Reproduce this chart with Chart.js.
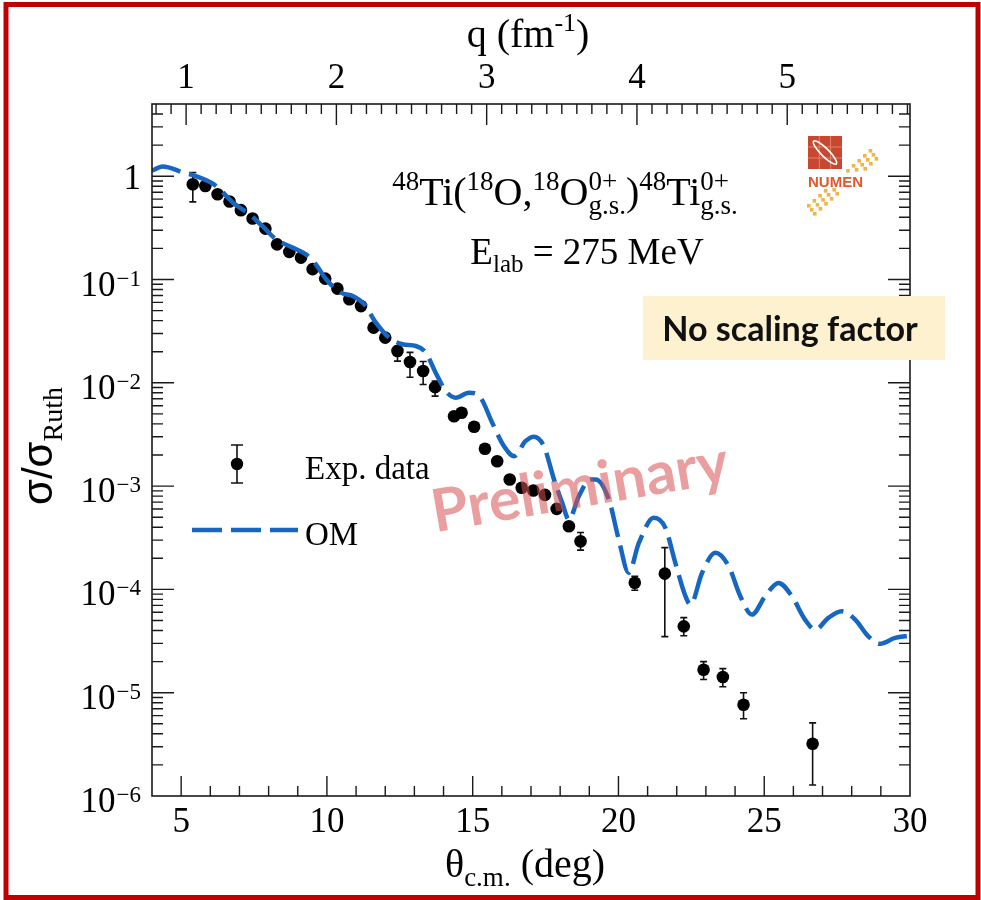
<!DOCTYPE html>
<html>
<head>
<meta charset="utf-8">
<script src="https://cdn.jsdelivr.net/npm/chart.js@4.4.1/dist/chart.umd.min.js"></script>
<style>
  html, body { margin: 0; padding: 0; background: #fff; }
  canvas { display: block; }
</style>
</head>
<body>
<canvas id="chart" width="981" height="900"></canvas>
<script>
// experimental points (theta c.m. in deg, sigma/sigma_Ruth)
const expTheta = [5.40, 5.83, 6.25, 6.66, 7.05, 7.45, 7.89, 8.29, 8.71, 9.11,
                  9.51, 9.94, 10.36, 10.77, 11.17, 11.60, 12.00, 12.42, 12.85, 13.30,
                  13.71, 14.36, 14.62, 15.05, 15.42, 15.84, 16.27, 16.68, 17.08, 17.48,
                  17.88, 18.30, 18.70, 20.56, 21.59, 22.24, 22.92, 23.58, 24.29, 26.66];
const expVal = [0.837, 0.805, 0.669, 0.569, 0.469, 0.389, 0.311, 0.219, 0.185, 0.163,
                0.126, 0.102, 0.0816, 0.0643, 0.0553, 0.0342, 0.0274, 0.0203, 0.0159, 0.0130,
                0.00908, 0.00475, 0.00513, 0.00376, 0.00230, 0.00174, 0.00116, 0.000964, 0.000906, 0.000823,
                0.000602, 0.000409, 0.000292, 1.16e-4, 1.42e-4, 4.39e-5, 1.67e-5, 1.42e-5, 7.65e-6, 3.2e-6];
// error bar ends (null = hidden behind the marker)
const expLo = [0.564, null, null, null, null, null, null, null, null, null,
               null, null, null, null, null, null, null, 0.0162, 0.0113, 0.00964,
               0.00743, null, null, null, null, null, null, null, null, null,
               null, null, 2.4e-4, 9.8e-5, 3.49e-5, 3.56e-5, 1.34e-5, 1.14e-5, 5.6e-6, 1.28e-6];
const expHi = [1.086, null, null, null, null, null, null, null, null, null,
               null, null, null, null, null, null, null, 0.0225, 0.0197, 0.0161,
               0.0104, null, null, null, null, null, null, null, null, null,
               null, null, 3.55e-4, 1.34e-4, 2.54e-4, 5.33e-5, 2.0e-5, 1.71e-5, 1.0e-5, 5.1e-6];

// optical model curve
const omTheta = [4.0, 4.37, 5.05, 5.51, 6.20, 6.77, 7.34, 7.80, 8.25, 8.82,
                 9.28, 9.62, 9.97, 10.48, 10.88, 11.28, 11.68, 12.13, 12.59, 13.05,
                 13.39, 13.73, 14.08, 14.42, 14.87, 15.27, 15.67, 16.07, 16.42, 16.81,
                 17.10, 17.44, 17.79, 18.07, 18.30, 18.64, 19.04, 19.22, 19.67, 20.01,
                 20.35, 20.70, 21.21, 21.61, 21.95, 22.30, 22.47, 22.87, 23.32, 23.78,
                 24.18, 24.58, 25.03, 25.49, 25.95, 26.40, 26.75, 27.20, 27.66, 28.12,
                 28.57, 28.97, 29.49, 30.0];
const omVal = [1.13, 1.24, 1.09, 1.0, 0.805, 0.556, 0.428, 0.326, 0.245, 0.204,
               0.175, 0.140, 0.1005, 0.0746, 0.0692, 0.0575, 0.0382, 0.0274, 0.0236, 0.0227,
               0.0196, 0.01253, 0.00831, 0.00718, 0.00802, 0.00718, 0.0041, 0.00244, 0.00195, 0.00272,
               0.00301, 0.00244, 0.00116, 0.000689, 0.000474, 0.000798, 0.00116, 0.00116, 0.000741, 0.000304,
               0.000145, 0.000282, 0.000493, 0.000394, 0.000181, 8.58e-5, 7.13e-5, 1.45e-4, 2.26e-4, 1.68e-4,
               8.58e-5, 5.7e-5, 8.58e-5, 1.156e-4, 8.58e-5, 5.1e-5, 4.07e-5, 5.3e-5, 6.14e-5, 5.1e-5,
               3.51e-5, 2.98e-5, 3.39e-5, 3.56e-5];

// axes
const xTicks = [5, 10, 15, 20, 25, 30];
const qTicks = [1, 2, 3, 4, 5];
const yDecades = [0, -1, -2, -3, -4, -5, -6];
const thetaMin = 4, thetaMax = 30;
const qMin = 0.773, qMax = 5.817;
const yMin = 1e-6, yMax = 5;

const serif = "'Liberation Serif', 'Times New Roman', serif";
const sans = "'Liberation Sans', Arial, sans-serif";
const omColor = '#1767c2';
const omDash = [30, 9];

// draws a run of text pieces (sub/superscripts), returns the width
function rich(ctx, parts, x, y, draw) {
  let cx = x;
  for (const p of parts) {
    if (p.sup !== undefined) {
      ctx.font = p.s + 'px ' + serif;
      const w = Math.max(ctx.measureText(p.sup).width, ctx.measureText(p.sub).width);
      if (draw) {
        ctx.fillText(p.sup, cx, y + p.up);
        ctx.fillText(p.sub, cx, y + p.dn);
      }
      cx += w;
    } else {
      ctx.font = p.s + 'px ' + (p.fam || serif);
      if (draw) ctx.fillText(p.t, cx, y + (p.dy || 0));
      cx += ctx.measureText(p.t).width;
    }
  }
  return cx - x;
}

function richCentered(ctx, parts, cx, y) {
  const w = rich(ctx, parts, 0, 0, false);
  rich(ctx, parts, cx - w / 2, y, true);
}

const whiteBg = {
  id: 'whiteBg',
  beforeDraw(chart) {
    const ctx = chart.ctx;
    ctx.save();
    ctx.fillStyle = '#fff';
    ctx.fillRect(0, 0, chart.width, chart.height);
    ctx.restore();
  }
};

const errorBars = {
  id: 'errorBars',
  beforeDatasetsDraw(chart) {
    const ctx = chart.ctx, sx = chart.scales.x, sy = chart.scales.y;
    ctx.save();
    ctx.strokeStyle = '#111';
    ctx.lineWidth = 1.6;
    ctx.beginPath();
    expTheta.forEach((t, i) => {
      if (expLo[i] === null) return;
      const px = sx.getPixelForValue(t);
      const y1 = sy.getPixelForValue(expLo[i]), y2 = sy.getPixelForValue(expHi[i]);
      ctx.moveTo(px, y1); ctx.lineTo(px, y2);
      ctx.moveTo(px - 3.5, y1); ctx.lineTo(px + 3.5, y1);
      ctx.moveTo(px - 3.5, y2); ctx.lineTo(px + 3.5, y2);
    });
    ctx.stroke();
    ctx.restore();
  }
};

function drawLogo(ctx, x, y) {
  ctx.save();
  ctx.fillStyle = '#c84731';
  ctx.fillRect(x, y, 34, 33);
  ctx.strokeStyle = '#e3826b';
  ctx.lineWidth = 1;
  ctx.beginPath();
  for (let i = 1; i < 3; i++) {
    ctx.moveTo(x + i * 11.3, y); ctx.lineTo(x + i * 11.3, y + 33);
    ctx.moveTo(x, y + i * 11); ctx.lineTo(x + 34, y + i * 11);
  }
  ctx.stroke();
  ctx.translate(x + 17, y + 16.5);
  ctx.rotate(Math.PI / 4);
  ctx.strokeStyle = '#fff';
  ctx.lineWidth = 1.6;
  ctx.beginPath();
  ctx.ellipse(0, 0, 16, 4, 0, 0, 2 * Math.PI);
  ctx.stroke();
  ctx.restore();

  ctx.save();
  ctx.fillStyle = '#f2b545';
  for (let i = 0; i < 12; i++) {
    for (let j = -1; j <= 1; j++) {
      const px = x + 2 + i * 5.6 + j * 3;
      const py = y + 72 - i * 5.0 + j * 4;
      if (py > y + 33 && py < y + 52) continue;
      if (px < x + 36 && py < y + 52) continue;
      ctx.fillRect(px, py, 3.6, 3.6);
    }
  }
  ctx.fillStyle = '#e2572b';
  ctx.font = "bold 15px " + sans;
  ctx.fillText('NUMEN', x, y + 51);
  ctx.restore();
}

const decorations = {
  id: 'decorations',
  afterDraw(chart) {
    const ctx = chart.ctx, ca = chart.chartArea;
    const sx = chart.scales.x, sq = chart.scales.x2, sy = chart.scales.y;
    ctx.save();

    // frame
    ctx.strokeStyle = '#1a1a1a';
    ctx.lineWidth = 1.6;
    ctx.strokeRect(ca.left, ca.top, ca.right - ca.left, ca.bottom - ca.top);

    // inward ticks
    ctx.lineWidth = 1.4;
    ctx.beginPath();
    for (let t = thetaMin + 1; t < thetaMax; t++) {
      const px = sx.getPixelForValue(t);
      const len = xTicks.includes(t) ? 20 : 10;
      ctx.moveTo(px, ca.bottom); ctx.lineTo(px, ca.bottom - len);
    }
    for (let k = 1; k <= 60; k++) {
      const q = k / 10;
      if (q <= qMin || q >= qMax) continue;
      const px = sq.getPixelForValue(q);
      const len = k % 10 === 0 ? 21 : 10;
      ctx.moveTo(px, ca.top); ctx.lineTo(px, ca.top + len);
    }
    for (const e of yDecades) {
      for (let d = 1; d <= 9; d++) {
        const v = d * Math.pow(10, e);
        if (v <= yMin * 1.0001 || v >= yMax) continue;
        const py = sy.getPixelForValue(v);
        const len = d === 1 ? 22 : 11;
        ctx.moveTo(ca.left, py); ctx.lineTo(ca.left + len, py);
        ctx.moveTo(ca.right, py); ctx.lineTo(ca.right - len, py);
      }
    }
    ctx.stroke();

    // y tick labels with exponents
    ctx.fillStyle = '#000';
    ctx.textBaseline = 'alphabetic';
    for (const e of yDecades) {
      const py = sy.getPixelForValue(Math.pow(10, e));
      if (e === 0) {
        ctx.font = '35px ' + serif;
        ctx.textAlign = 'right';
        ctx.fillText('1', 141, py + 13);
        continue;
      }
      ctx.font = '23px ' + serif;
      ctx.textAlign = 'left';
      const sup = '\u2212' + (-e);
      const w = ctx.measureText(sup).width;
      ctx.fillText(sup, 141 - w, py + 6);
      ctx.font = '35px ' + serif;
      ctx.textAlign = 'right';
      ctx.fillText('10', 141 - w - 1, py + 16);
    }
    ctx.textAlign = 'left';

    // axis titles
    richCentered(ctx, [{t: 'q (fm', s: 40}, {t: '-1', s: 26, dy: -16}, {t: ')', s: 40}], 528, 47);
    richCentered(ctx, [{t: '\u03b8', s: 40}, {t: 'c.m.', s: 27, dy: 9}, {t: ' (deg)', s: 40}], 525, 877);
    ctx.save();
    ctx.translate(52, 505);
    ctx.rotate(-Math.PI / 2);
    rich(ctx, [{t: '\u03c3/\u03c3', s: 42, fam: sans}, {t: 'Ruth', s: 28, dy: 10}], 0, 0, true);
    ctx.restore();

    // reaction label
    const up = -15, dn = 9;
    richCentered(ctx, [
      {t: '48', s: 27, dy: up}, {t: 'Ti(', s: 40},
      {t: '18', s: 27, dy: up}, {t: 'O,', s: 40},
      {t: '18', s: 27, dy: up}, {t: 'O', s: 40},
      {sup: '0+', sub: 'g.s.', s: 27, up: up, dn: dn}, {t: ')', s: 40},
      {t: '48', s: 27, dy: up}, {t: 'Ti', s: 40},
      {sup: '0+', sub: 'g.s.', s: 27, up: up, dn: dn}
    ], 565, 205);
    richCentered(ctx, [{t: 'E', s: 37}, {t: 'lab', s: 25, dy: 8}, {t: ' = 275 MeV', s: 37}], 587, 264);

    // legend
    ctx.strokeStyle = '#111';
    ctx.lineWidth = 1.6;
    ctx.beginPath();
    ctx.moveTo(237, 445); ctx.lineTo(237, 483);
    ctx.moveTo(231, 445); ctx.lineTo(243, 445);
    ctx.moveTo(231, 483); ctx.lineTo(243, 483);
    ctx.stroke();
    ctx.fillStyle = '#000';
    ctx.beginPath();
    ctx.arc(237, 464, 6.2, 0, 2 * Math.PI);
    ctx.fill();
    ctx.font = '33px ' + serif;
    ctx.fillText('Exp. data', 305, 479);
    ctx.strokeStyle = omColor;
    ctx.lineWidth = 4.5;
    ctx.setLineDash(omDash);
    ctx.beginPath();
    ctx.moveTo(192, 530); ctx.lineTo(298, 530);
    ctx.stroke();
    ctx.setLineDash([]);
    ctx.fillText('OM', 305, 545);

    drawLogo(ctx, 808, 136);

    // note box
    ctx.fillStyle = '#fdf1d0';
    ctx.fillRect(643, 296, 302, 64);
    ctx.fillStyle = '#111';
    ctx.font = 'bold 29px Lato, ' + sans;
    let w = ctx.measureText('No scaling factor').width;
    ctx.font = 'bold ' + (29 * 256 / w).toFixed(1) + 'px Lato, ' + sans;
    ctx.textAlign = 'center';
    ctx.textBaseline = 'middle';
    ctx.fillText('No scaling factor', 790, 330);

    // watermark
    ctx.save();
    ctx.translate(580, 488);
    ctx.rotate(-0.17);
    ctx.font = 'bold 54px Lato, ' + sans;
    w = ctx.measureText('Preliminary').width;
    ctx.font = 'bold ' + (54 * 300 / w).toFixed(1) + 'px Lato, ' + sans;
    ctx.fillStyle = 'rgba(215, 80, 80, 0.55)';
    ctx.fillText('Preliminary', 0, 0);
    ctx.restore();

    // red page border
    ctx.strokeStyle = '#c00000';
    ctx.lineWidth = 5;
    ctx.strokeRect(6, 4.5, 972, 893);
    ctx.restore();
  }
};

const ctx = document.getElementById('chart').getContext('2d');
new Chart(ctx, {
  data: {
    datasets: [{
      type: 'line',
      label: 'OM',
      data: omTheta.map((t, i) => ({x: t, y: omVal[i]})),
      borderColor: omColor,
      borderWidth: 4.5,
      borderDash: omDash,
      pointRadius: 0,
      fill: false,
      cubicInterpolationMode: 'monotone',
      xAxisID: 'x',
      yAxisID: 'y'
    }, {
      type: 'scatter',
      label: 'Exp. data',
      data: expTheta.map((t, i) => ({x: t, y: expVal[i]})),
      backgroundColor: '#000',
      borderWidth: 0,
      pointRadius: 6.3,
      xAxisID: 'x',
      yAxisID: 'y'
    }]
  },
  options: {
    responsive: false,
    devicePixelRatio: 1,
    animation: false,
    events: [],
    layout: { padding: { left: 0, right: 71, top: 0, bottom: 0 } },
    plugins: { legend: { display: false }, tooltip: { enabled: false } },
    scales: {
      x: {
        type: 'linear', position: 'bottom', min: thetaMin, max: thetaMax,
        afterBuildTicks: s => { s.ticks = xTicks.map(v => ({value: v})); },
        afterFit: s => { s.height = 104; },
        ticks: { font: { family: serif, size: 35 }, color: '#000', padding: 6, maxRotation: 0, autoSkip: false },
        grid: { display: false, drawTicks: false },
        border: { display: false }
      },
      x2: {
        type: 'linear', position: 'top', min: qMin, max: qMax,
        afterBuildTicks: s => { s.ticks = qTicks.map(v => ({value: v})); },
        afterFit: s => { s.height = 104; },
        ticks: { font: { family: serif, size: 35 }, color: '#000', padding: 4, maxRotation: 0, autoSkip: false },
        grid: { display: false, drawTicks: false },
        border: { display: false }
      },
      y: {
        type: 'logarithmic', position: 'left', min: yMin, max: yMax,
        afterFit: s => { s.width = 152; },
        ticks: { display: false },
        grid: { display: false, drawTicks: false },
        border: { display: false }
      }
    }
  },
  plugins: [whiteBg, errorBars, decorations]
});
</script>
</body>
</html>
